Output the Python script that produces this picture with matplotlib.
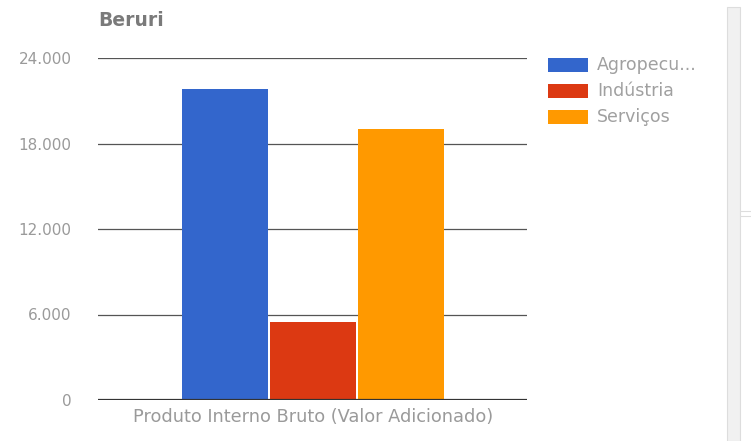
import matplotlib
matplotlib.use("Agg")
import matplotlib.pyplot as plt
from matplotlib.patches import Rectangle
from matplotlib.lines import Line2D

plt.rcParams['font.family'] = ['DejaVu Sans']

title = "Beruri"
category = "Produto Interno Bruto (Valor Adicionado)"
series = ["Agropecu...", "Indústria", "Serviços"]
values = [21800, 5480, 19000]
colors = ["#3366cc", "#dc3912", "#ff9900"]
yticks = [0, 6000, 12000, 18000, 24000]
ytick_labels = ["0", "6.000", "12.000", "18.000", "24.000"]

W, H = 751, 441
fig = plt.figure(figsize=(W / 100, H / 100), dpi=100)
fig.patch.set_facecolor("white")

L, R, T, B = 98, 527, 58, 400
ax = fig.add_axes([L / W, (H - B) / H, (R - L) / W, (B - T) / H])
ax.set_facecolor("white")

offsets = [-1, 0, 1]
for off, v, c, name in zip(offsets, values, colors, series):
    ax.bar(off, v, width=0.985, color=c, label=name, zorder=3)

ax.set_xlim((L - 313) / 88, (R - 313) / 88)
ax.set_ylim(0, 24000)
ax.set_yticks(yticks)
ax.set_yticklabels(ytick_labels)
ax.tick_params(axis="y", length=0, pad=19, labelsize=11, labelcolor="#9a9a9a")
for lbl in ax.get_yticklabels():
    lbl.set_horizontalalignment("right")
ax.set_xticks([0])
ax.set_xticklabels([category])
ax.tick_params(axis="x", length=0, pad=6, labelsize=12.8, labelcolor="#9a9a9a")
for s in ax.spines.values():
    s.set_visible(False)
ax.grid(axis="y", color="#555555", linewidth=0.9, zorder=1)
ax.axhline(0, color="#333333", linewidth=1.6, zorder=4)

fig.text(L / W, 1 - 20 / H, title, fontsize=13.5, fontweight="bold",
         color="#7a7a7a", ha="left", va="center")

# legend
leg_y = [65, 91, 117]
for name, c, y in zip(series, colors, leg_y):
    fig.patches.append(Rectangle((548 / W, 1 - (y + 7) / H), 40 / W, 14 / H,
                                 transform=fig.transFigure, facecolor=c,
                                 edgecolor="none", figure=fig))
    fig.text(597 / W, 1 - y / H, name, fontsize=12.5, color="#a0a0a0",
             ha="left", va="center")

# scrollbar-like strip on the right
fig.patches.append(Rectangle((727 / W, 0), 13 / W, 1 - 7 / H,
                             transform=fig.transFigure, facecolor="#f1f1f1",
                             edgecolor="#dddddd", linewidth=0.8, figure=fig))
fig.lines.append(Line2D([741 / W, 1], [1 - 211 / H, 1 - 211 / H],
                        transform=fig.transFigure, color="#dddddd", lw=0.8))
fig.lines.append(Line2D([741 / W, 1], [1 - 216 / H, 1 - 216 / H],
                        transform=fig.transFigure, color="#dddddd", lw=0.8))

fig.savefig("out.png", dpi=100, facecolor="white")
